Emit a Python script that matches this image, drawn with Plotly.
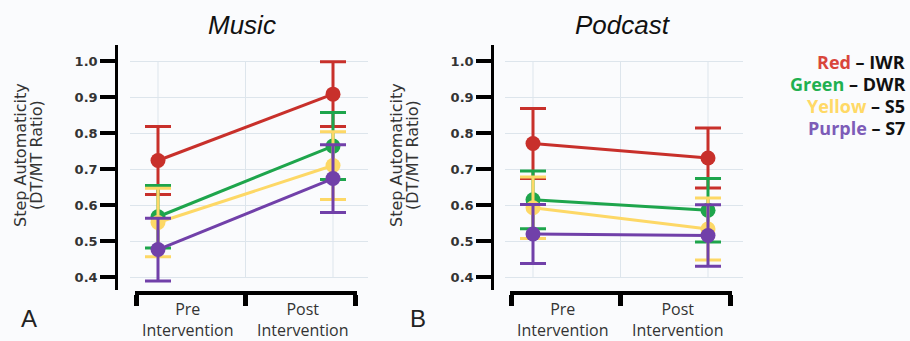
import plotly.graph_objects as go

# ---------------- data ----------------
conditions = ["Pre<br>Intervention", "Post<br>Intervention"]
x_pos = [0, 1]
groups = ["IWR", "DWR", "S5", "S7"]
legend_names = ["Red", "Green", "Yellow", "Purple"]
y_ticks = [0.4, 0.5, 0.6, 0.7, 0.8, 0.9, 1.0]
y_ticktext = ["0.4", "0.5", "0.6", "0.7", "0.8", "0.9", "1.0"]

music_iwr = [0.724, 0.908]
music_iwr_err = [0.094, 0.090]
music_dwr = [0.568, 0.764]
music_dwr_err = [0.087, 0.093]
music_s5 = [0.552, 0.710]
music_s5_err = [0.095, 0.094]
music_s7 = [0.477, 0.674]
music_s7_err = [0.087, 0.094]

podcast_iwr = [0.771, 0.731]
podcast_iwr_err = [0.097, 0.083]
podcast_dwr = [0.615, 0.586]
podcast_dwr_err = [0.080, 0.088]
podcast_s5 = [0.593, 0.534]
podcast_s5_err = [0.085, 0.086]
podcast_s7 = [0.520, 0.516]
podcast_s7_err = [0.082, 0.085]

# ---------------- style ----------------
colors = ["#c8302b", "#1ea54c", "#fdd866", "#7140a9"]
legend_colors = ["#d9463c", "#1fb050", "#ffd966", "#7d5cb8"]
GRID = "#dde5ec"
BG = "#fafbfd"
W, H = 910, 341


def px(x):
    return x / W


def py(y):
    return 1 - y / H


fig = go.Figure()

panels = [
    dict(xa="x", ya="y", xb="x3", yb="y3",
         series=[(music_iwr, music_iwr_err), (music_dwr, music_dwr_err),
                 (music_s5, music_s5_err), (music_s7, music_s7_err)]),
    dict(xa="x2", ya="y2", xb="x4", yb="y4",
         series=[(podcast_iwr, podcast_iwr_err), (podcast_dwr, podcast_dwr_err),
                 (podcast_s5, podcast_s5_err), (podcast_s7, podcast_s7_err)]),
]

for p in panels:
    # dummy trace so the offset bottom axis is rendered
    fig.add_trace(go.Scatter(x=[None], y=[None], xaxis=p["xb"], yaxis=p["yb"],
                             showlegend=False, hoverinfo="skip"))
    for (mean, err), col, g in zip(p["series"], colors, groups):
        fig.add_trace(go.Scatter(
            x=x_pos, y=mean, name=g, mode="lines+markers",
            line=dict(color=col, width=3),
            marker=dict(color=col, size=15),
            error_y=dict(type="data", array=err, color=col, thickness=3, width=13),
            xaxis=p["xa"], yaxis=p["ya"], showlegend=False, hoverinfo="skip"))

y_dom = [py(290), py(45)]
y_rng = [0.3648, 1.0444]
x_rng = [-0.16, 1.2]
xb_rng = [-0.131, 1.137]
xb_ticks = [-0.12, 0.5, 1.126]


def yaxis(pos):
    return dict(range=y_rng, domain=y_dom, anchor="free", position=pos,
                tickvals=y_ticks, ticktext=y_ticktext, ticks="outside",
                ticklen=15, tickwidth=4, tickcolor="black",
                showline=True, linecolor="black", linewidth=2.5,
                showgrid=True, gridcolor=GRID, gridwidth=1, zeroline=False,
                tickfont=dict(family="DejaVu Sans", size=13, color="#333333", weight="bold"))


def xaxis(dom, anchor):
    return dict(range=x_rng, domain=dom, anchor=anchor, showgrid=False,
                showline=False, zeroline=False, showticklabels=False, ticks="")


def xbottom(dom):
    return dict(range=xb_rng, domain=dom, anchor="free", position=py(293),
                showline=True, linecolor="black", linewidth=3.5,
                ticks="outside", ticklen=11, tickwidth=5, tickcolor="black",
                tickvals=xb_ticks, showticklabels=False, showgrid=False, zeroline=False)


hidden_y = dict(visible=False, domain=[0, 0.05], range=[0, 1])

fig.update_layout(
    width=W, height=H, margin=dict(l=0, r=0, t=0, b=0),
    paper_bgcolor=BG, plot_bgcolor="rgba(0,0,0,0)",
    xaxis=xaxis([px(130), px(368)], "y"),
    xaxis2=xaxis([px(505), px(743)], "y2"),
    xaxis3=xbottom([px(135), px(357)]),
    xaxis4=xbottom([px(510), px(732)]),
    yaxis=yaxis(px(116)),
    yaxis2=yaxis(px(492)),
    yaxis3=dict(hidden_y, anchor="x3"),
    yaxis4=dict(hidden_y, anchor="x4"),
)

shapes = []
for xa, ya in [("x", "y"), ("x2", "y2")]:
    for gx in [0, 0.5, 1]:
        shapes.append(dict(type="line", xref=xa, yref=ya, x0=gx, x1=gx, y0=0.4, y1=1.0,
                           line=dict(color=GRID, width=1), layer="below"))
fig.update_layout(shapes=shapes)

ann = []
TXT = "#333333"


def note(text, x, y, font, xref="paper", xanchor="center", textangle=0):
    ann.append(dict(text=text, x=x, y=y, xref=xref, yref="paper", showarrow=False,
                    xanchor=xanchor, yanchor="middle", textangle=textangle, font=font))


title_font = dict(family="Liberation Sans", size=26, color="#111111", style="italic")
note("Music", px(242), py(25), title_font)
note("Podcast", px(623), py(25), title_font)
letter_font = dict(family="Liberation Sans", size=24, color="#222222")
note("A", px(29), py(318), letter_font)
note("B", px(418), py(318), letter_font)
ytitle_font = dict(family="DejaVu Sans", size=16, color=TXT)
for x0 in [0, 376]:
    note("Step Automaticity", px(x0 + 20), py(155), ytitle_font, textangle=-90)
    note("(DT/MT Ratio)", px(x0 + 36), py(155), ytitle_font, textangle=-90)
label_x = [0.17, 0.825]
xlab_font = dict(family="Open Sans", size=16, color=TXT)
for xa in ["x", "x2"]:
    for lx, lab in zip(label_x, conditions):
        note(lab, lx, py(319), xlab_font, xref=xa)
leg_y = [62, 84, 106, 128]
leg_font = dict(family="Open Sans", size=18, color="#111111", weight="bold")
for name, g, c, ly in zip(legend_names, groups, legend_colors, leg_y):
    note(f"<span style='color:{c}'>{name}</span> – {g}", px(907), py(ly), leg_font,
         xanchor="right")
fig.update_layout(annotations=ann)

fig.write_html("out.html", config={"displayModeBar": False},
               post_script="document.body.style.margin='0';")
